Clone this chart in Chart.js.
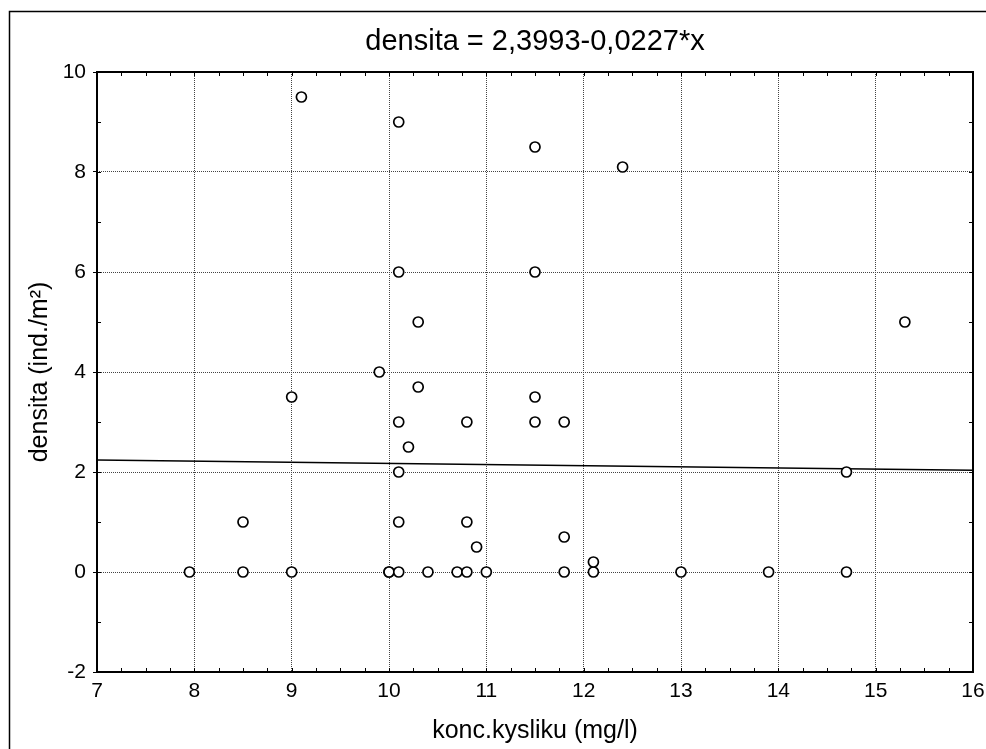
<!DOCTYPE html>
<html>
<head>
<meta charset="utf-8">
<style>
  html, body { margin: 0; padding: 0; background: #fff; }
  #wrap { width: 986px; height: 749px; }
</style>
<script src="https://cdn.jsdelivr.net/npm/chart.js@4/dist/chart.umd.min.js"></script>
</head>
<body>
<div id="wrap"><canvas id="chart" width="986" height="749"></canvas></div>
<script>
// Oxygen concentration (mg/l) and density (ind./m2) for each sample
const oxygen = [
  7.95, 8.5, 8.5, 9.0, 9.0, 9.1, 9.9, 10.0, 10.0, 10.1,
  10.1, 10.1, 10.1, 10.1, 10.1, 10.2, 10.3, 10.3, 10.4, 10.7,
  10.8, 10.8, 10.8, 10.9, 11.0, 11.5, 11.5, 11.5, 11.5, 11.8,
  11.8, 11.8, 12.1, 12.1, 12.4, 13.0, 13.9, 14.7, 14.7, 15.3
];
const density = [
  0, 0, 1, 0, 3.5, 9.5, 4, 0, 0, 0,
  1, 2, 3, 6, 9, 2.5, 3.7, 5, 0, 0,
  0, 1, 3, 0.5, 0, 3, 3.5, 6, 8.5, 0,
  0.7, 3, 0, 0.2, 8.1, 0, 0, 0, 2, 5
];

// Fitted regression: densita = intercept + slope * x
const intercept = 2.3993;
const slope = -0.0227;
const xLimits = [7, 16];
const yLimits = [-2, 10];

const titleText = 'densita = 2,3993-0,0227*x';
const xTitle = 'konc.kysliku (mg/l)';
const yTitle = 'densita (ind./m\u00B2)';

const points = oxygen.map((x, i) => ({ x: x, y: density[i] }));
const fitLine = xLimits.map(x => ({ x: x, y: intercept + slope * x }));

const FONT = 'Liberation Sans, Arial, sans-serif';

// Outer frame, plot border and small inward minor ticks
const decorations = {
  id: 'decorations',
  beforeDraw(chart) {
    const ctx = chart.ctx;
    ctx.save();
    ctx.fillStyle = '#fff';
    ctx.fillRect(0, 0, chart.width, chart.height);
    ctx.strokeStyle = '#000';
    ctx.lineWidth = 1.5;
    ctx.beginPath();
    ctx.moveTo(9.5, chart.height);
    ctx.lineTo(9.5, 11.5);
    ctx.lineTo(chart.width, 11.5);
    ctx.stroke();
    ctx.restore();
  },
  afterDraw(chart) {
    const ctx = chart.ctx;
    const a = chart.chartArea;
    const xs = chart.scales.x, ys = chart.scales.y;
    ctx.save();
    ctx.strokeStyle = '#000';
    ctx.lineWidth = 1;
    ctx.beginPath();
    for (let v = xLimits[0]; v <= xLimits[1] + 1e-9; v += 0.25) {
      const px = Math.round(xs.getPixelForValue(v)) + 0.5;
      ctx.moveTo(px, a.top); ctx.lineTo(px, a.top + 4);
      ctx.moveTo(px, a.bottom); ctx.lineTo(px, a.bottom - 4);
    }
    for (let v = yLimits[0]; v <= yLimits[1] + 1e-9; v += 1) {
      const py = Math.round(ys.getPixelForValue(v)) + 0.5;
      ctx.moveTo(a.left, py); ctx.lineTo(a.left + 4, py);
      ctx.moveTo(a.right, py); ctx.lineTo(a.right - 4, py);
    }
    ctx.stroke();
    ctx.lineWidth = 2;
    ctx.strokeRect(a.left, a.top, a.right - a.left, a.bottom - a.top);
    ctx.restore();
  }
};

new Chart(document.getElementById('chart'), {
  type: 'scatter',
  data: {
    datasets: [
      {
        label: 'densita',
        data: points,
        pointStyle: 'circle',
        pointRadius: 5,
        pointHoverRadius: 5,
        pointBorderWidth: 1.7,
        borderColor: '#000',
        backgroundColor: '#fff',
        order: 1
      },
      {
        type: 'line',
        label: 'fit',
        data: fitLine,
        borderColor: '#000',
        borderWidth: 1.5,
        pointRadius: 0,
        fill: false,
        order: 2
      }
    ]
  },
  options: {
    responsive: false,
    animation: false,
    devicePixelRatio: 1,
    layout: { padding: { left: 0, right: 13, top: 0, bottom: 0 } },
    plugins: {
      legend: { display: false },
      tooltip: { enabled: false },
      title: { display: false }
    },
    scales: {
      // top axis only carries the equation, centred over the plot
      top: {
        type: 'linear',
        position: 'top',
        min: xLimits[0],
        max: xLimits[1],
        ticks: { display: false },
        grid: { display: false, drawTicks: false },
        border: { display: false },
        title: {
          display: true,
          text: titleText,
          color: '#000',
          font: { family: FONT, size: 29 },
          padding: { top: 25, bottom: 0 }
        },
        afterFit(scale) {
          scale.height = 72;
          scale.paddingLeft = 0;
          scale.paddingRight = 0;
        }
      },
      x: {
        type: 'linear',
        position: 'bottom',
        min: xLimits[0],
        max: xLimits[1],
        ticks: {
          stepSize: 1,
          color: '#000',
          font: { family: FONT, size: 21 },
          padding: 7
        },
        grid: {
          color: '#444',
          lineWidth: 1,
          drawTicks: false
        },
        border: { display: false, dash: [1, 1] },
        title: {
          display: true,
          text: xTitle,
          color: '#000',
          font: { family: FONT, size: 25 },
          padding: { top: 0, bottom: 3 }
        },
        afterFit(scale) {
          scale.height = 77;
          scale.paddingLeft = 0;
          scale.paddingRight = 0;
        }
      },
      y: {
        type: 'linear',
        min: yLimits[0],
        max: yLimits[1],
        ticks: {
          stepSize: 2,
          color: '#000',
          font: { family: FONT, size: 21 },
          padding: 7
        },
        grid: {
          color: '#444',
          lineWidth: 1,
          drawTicks: true,
          tickLength: 4,
          tickColor: '#000'
        },
        border: { display: false, dash: [1, 1] },
        title: {
          display: true,
          text: yTitle,
          color: '#000',
          font: { family: FONT, size: 25 },
          padding: { top: 25, bottom: 0 }
        },
        afterFit(scale) {
          scale.width = 97;
          scale.paddingTop = 0;
          scale.paddingBottom = 0;
        }
      }
    }
  },
  plugins: [decorations]
});
</script>
</body>
</html>
